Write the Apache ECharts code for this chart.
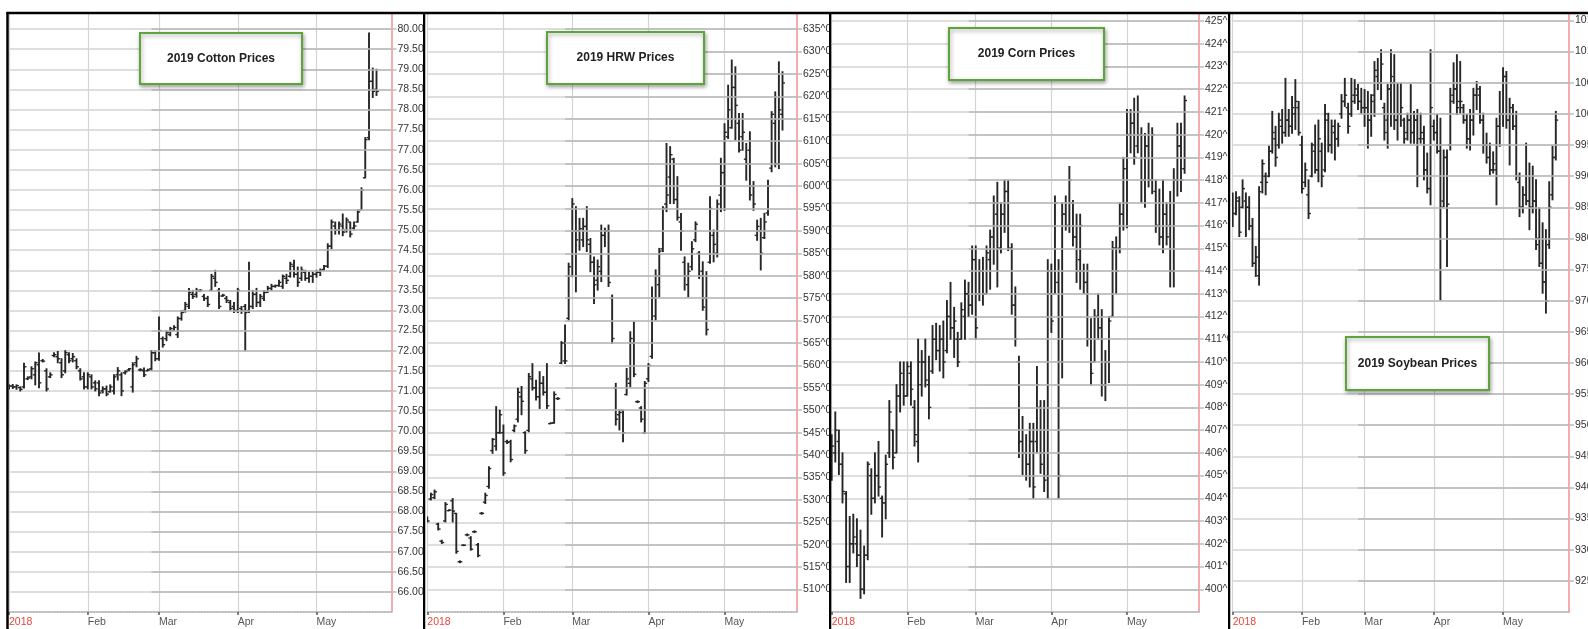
<!DOCTYPE html>
<html>
<head>
<meta charset="utf-8">
<script src="https://cdn.jsdelivr.net/npm/echarts@6/dist/echarts.min.js"></script>
<style>
html,body{margin:0;padding:0;background:#fff;width:1588px;height:629px;overflow:hidden;}
.panel{position:absolute;top:0;height:629px;overflow:hidden;background:#fff;}
</style>
</head>
<body>
<div id="p1" class="panel" style="left:0;width:423px"></div>
<div id="p2" class="panel" style="left:423px;width:406px"></div>
<div id="p3" class="panel" style="left:829px;width:399px"></div>
<div id="p4" class="panel" style="left:1228px;width:360px"></div>
<script>
// ---- categories: 2018 trading days (Jan 2 .. May 30) ----
const tradingDays = [
"01-02","01-03","01-04","01-05","01-08","01-09","01-10","01-11","01-12","01-16","01-17","01-18","01-19","01-22","01-23","01-24","01-25","01-26","01-29","01-30","01-31",
"02-01","02-02","02-05","02-06","02-07","02-08","02-09","02-12","02-13","02-14","02-15","02-16","02-20","02-21","02-22","02-23","02-26","02-27","02-28",
"03-01","03-02","03-05","03-06","03-07","03-08","03-09","03-12","03-13","03-14","03-15","03-16","03-19","03-20","03-21","03-22","03-23","03-26","03-27","03-28","03-29",
"04-02","04-03","04-04","04-05","04-06","04-09","04-10","04-11","04-12","04-13","04-16","04-17","04-18","04-19","04-20","04-23","04-24","04-25","04-26","04-27","04-30",
"05-01","05-02","05-03","05-04","05-07","05-08","05-09","05-10","05-11","05-14","05-15","05-16","05-17","05-18","05-21","05-22","05-23","05-24","05-25","05-29","05-30"
];
// ---- x tick labels ----
const monthLabels = {"01-02":"2018","02-01":"Feb","03-01":"Mar","04-02":"Apr","05-01":"May"};

// ---- titles ----
const titles = ["2019 Cotton Prices","2019 HRW Prices","2019 Corn Prices","2019 Soybean Prices"];

// ---- OHLC series: [open, high, low, close] ----
const cottonBars = [
[71.10,71.15,71.05,71.12],[71.12,71.16,71.06,71.10],[71.10,71.15,71.04,71.13],[71.08,71.10,71.00,71.04],[71.10,71.69,71.07,71.60],
[71.30,71.35,71.28,71.32],[71.35,71.60,71.30,71.55],[71.40,71.72,71.15,71.70],[71.65,71.94,71.08,71.20],[71.75,71.78,71.72,71.74],
[71.50,71.55,71.00,71.05],[71.35,71.45,71.33,71.40],[71.88,71.95,71.85,71.90],[71.85,71.98,71.70,71.80],[71.70,71.80,71.33,71.40],
[71.50,72.00,71.45,71.95],[71.90,71.95,71.70,71.75],[71.80,71.93,71.72,71.85],[71.75,71.80,71.55,71.60],[71.50,71.55,71.27,71.30],
[71.35,71.45,71.05,71.10],[71.10,71.45,71.05,71.40],[71.35,71.40,71.05,71.10],[71.20,71.25,71.00,71.05],[71.20,71.25,70.88,70.95],
[71.00,71.10,70.95,71.05],[71.05,71.12,70.88,70.92],[70.98,71.15,70.97,71.10],[71.00,71.40,70.92,71.35],[71.40,71.58,71.27,71.50],
[71.40,71.45,70.88,71.00],[71.45,71.50,71.42,71.48],[71.52,71.56,71.50,71.55],[71.10,71.70,70.97,71.65],[71.70,71.86,71.60,71.80],
[71.52,71.55,71.50,71.53],[71.50,71.57,71.36,71.40],[71.50,71.54,71.50,71.52],[71.55,72.00,71.52,71.95],[71.95,72.00,71.75,71.80],
[71.80,72.84,71.76,72.50],[72.30,72.34,72.09,72.15],[72.30,72.50,72.25,72.45],[72.40,72.58,72.37,72.55],[72.50,72.62,72.50,72.58],
[72.40,72.84,72.33,72.80],[72.80,73.00,72.76,72.95],[73.00,73.20,72.96,73.15],[73.10,73.55,73.05,73.45],[73.40,73.50,73.30,73.35],
[73.40,73.55,73.33,73.50],[73.48,73.52,73.47,73.50],[73.35,73.40,73.25,73.30],[73.30,73.35,73.10,73.15],[73.50,73.90,73.50,73.85],
[73.80,74.00,73.60,73.70],[73.50,73.55,73.05,73.10],[73.36,73.40,73.35,73.38],[73.30,73.35,73.20,73.25],[73.20,73.25,73.00,73.05],
[73.10,73.20,72.95,73.00],[73.00,73.55,72.95,73.50],[73.05,73.10,72.93,73.00],[73.10,73.15,72.00,72.95],[73.00,74.20,72.95,73.10],
[73.10,73.50,73.05,73.40],[73.40,73.55,73.10,73.20],[73.20,73.40,73.10,73.35],[73.30,73.50,73.25,73.45],[73.45,73.60,73.45,73.55],
[73.55,73.65,73.50,73.60],[73.60,73.63,73.58,73.62],[73.62,73.75,73.60,73.70],[73.60,73.88,73.55,73.85],[73.80,73.90,73.67,73.75],
[73.85,74.20,73.83,74.15],[74.10,74.25,73.83,73.90],[73.90,74.08,73.60,73.70],[73.80,74.08,73.75,74.00],[73.95,74.00,73.75,73.80],
[73.80,73.95,73.70,73.85],[73.85,73.95,73.70,73.90],[73.90,74.00,73.83,73.95],[73.95,74.03,73.87,74.00],[74.02,74.12,74.00,74.10],
[74.10,74.66,74.07,74.60],[74.60,75.25,74.54,75.20],[75.10,75.20,74.90,75.00],[75.00,75.20,74.90,75.15],[75.10,75.40,74.86,74.95],
[75.00,75.30,74.95,75.25],[75.20,75.20,74.83,74.90],[75.05,75.20,75.00,75.10],[75.20,75.50,75.20,75.45],[75.50,76.05,75.50,76.00],
[76.30,77.30,76.30,77.25],[77.30,79.90,77.25,78.70],[78.70,79.03,78.30,78.45],[78.50,79.00,78.35,78.45]
];
const hrwBars = [
[526.0,526.2,525.1,525.3],[530.2,531.5,530.0,531.2],[530.5,532.2,530.3,531.8],[524.6,524.8,523.3,523.5],[520.8,521.0,520.3,520.5],
[525.3,529.4,525.1,529.0],[527.6,527.8,527.6,527.7],[529.8,530.3,525.1,527.5],[527.0,527.0,518.1,518.5],[516.2,516.4,516.0,516.2],
[519.9,520.0,519.8,519.9],[522.2,522.4,522.0,522.2],[521.5,521.8,518.8,519.0],[522.9,523.1,522.7,522.9],[520.0,520.3,517.3,517.6],
[527.0,527.2,526.8,527.0],[529.5,531.5,529.2,531.0],[533.0,537.4,532.6,537.0],[541.0,543.7,540.4,543.5],[542.0,550.8,541.1,545.0],
[545.0,550.0,544.8,549.0],[545.0,546.7,535.5,536.0],[543.0,543.3,542.6,542.8],[543.0,543.3,538.5,539.0],[545.5,546.7,545.2,546.5],
[548.0,554.9,547.4,554.0],[553.0,555.3,549.0,552.0],[545.0,545.2,540.4,541.0],[545.5,558.2,545.2,557.5],[557.0,560.4,554.5,555.0],
[555.0,556.7,552.3,553.0],[553.0,558.6,550.4,556.0],[556.0,557.5,553.4,554.0],[554.0,560.4,550.4,551.0],[547.0,547.2,547.0,547.1],
[547.2,554.1,547.1,553.5],[552.6,552.8,552.4,552.6],[560.5,565.3,560.4,565.0],[561.0,569.0,560.4,561.0],[570.5,582.8,570.1,582.0],
[580.0,597.2,579.8,596.0],[590.0,595.4,576.4,588.0],[590.0,592.8,585.7,590.5],[588.0,592.8,586.5,591.0],[591.0,595.4,585.4,588.0],
[587.0,588.3,580.9,583.0],[583.0,584.2,573.8,578.0],[579.0,583.5,576.8,582.0],[581.0,591.3,578.7,589.0],[589.0,590.6,586.5,590.0],
[590.0,591.3,577.6,578.5],[575.0,575.7,564.9,566.0],[555.0,556.0,546.7,548.0],[549.0,550.0,545.6,549.5],[550.0,550.0,543.0,545.0],
[553.5,559.3,553.4,557.0],[556.0,567.5,555.2,566.0],[565.0,569.7,557.5,558.0],[551.9,552.1,551.7,551.9],[550.5,550.8,547.4,548.0],
[545.0,556.4,544.8,556.0],[557.0,560.4,556.4,560.0],[562.0,577.5,561.6,575.0],[571.0,581.3,570.1,580.0],[578.0,586.1,575.3,585.5],
[586.0,595.4,585.4,595.0],[596.0,609.5,594.3,598.0],[602.0,608.8,596.1,607.0],[606.0,606.2,596.1,597.0],[597.0,602.1,592.4,593.0],
[592.0,593.9,585.7,590.0],[583.0,584.2,576.8,580.0],[578.0,582.8,575.3,581.0],[582.0,587.6,581.3,586.0],[588.0,592.0,587.6,591.5],
[585.0,585.4,579.4,580.0],[581.0,583.1,572.3,573.0],[575.0,580.9,566.8,568.0],[583.0,597.6,582.8,595.0],[589.0,590.2,583.1,587.0],
[585.0,596.9,584.2,596.0],[598.0,606.2,594.3,603.0],[603.0,613.9,594.6,612.0],[611.0,622.5,610.6,617.0],[613.0,628.1,612.9,622.0],
[622.0,626.6,610.3,618.0],[614.0,616.2,607.6,608.0],[611.0,616.2,608.0,612.0],[606.0,609.5,601.3,605.0],[608.0,612.1,596.9,598.0],
[600.0,601.0,594.6,596.0],[589.0,592.4,587.9,591.0],[590.0,592.8,581.3,585.0],[588.5,593.9,588.3,592.0],[594.0,601.3,593.5,600.0],
[604.0,616.6,603.2,616.0],[614.0,621.0,604.3,605.0],[605.0,627.7,603.9,617.0],[616.0,625.5,612.5,623.0]
];
const cornBars = [
[405.0,406.8,404.8,406.3],[406.0,407.8,405.6,407.0],[406.5,407.0,405.05,405.5],[405.5,406.0,403.8,404.3],[404.2,404.3,400.3,401.0],
[401.0,403.2,400.3,402.0],[402.0,403.3,401.6,402.3],[402.0,403.1,401.0,401.5],[401.5,402.6,399.6,400.0],[400.0,401.9,399.8,401.5],
[401.5,405.6,401.3,405.5],[405.0,405.3,403.3,404.0],[404.0,406.0,403.8,405.0],[405.0,406.5,404.1,404.5],[404.0,404.1,402.3,403.8],
[403.8,405.9,403.1,405.5],[406.0,408.3,405.8,407.8],[407.0,407.0,405.3,405.8],[406.0,409.0,406.0,408.5],[408.5,410.0,407.8,409.5],
[409.0,410.0,408.1,408.5],[408.5,410.0,408.5,409.8],[409.5,410.0,408.1,408.8],[408.0,408.3,406.3,406.8],[406.5,411.0,405.6,410.0],
[409.0,410.5,408.5,410.0],[410.0,411.0,408.9,409.2],[409.0,410.25,407.5,408.0],[409.6,411.6,409.5,411.0],[411.0,411.7,410.1,410.5],
[410.5,411.6,409.6,411.0],[411.0,411.8,409.3,410.0],[410.5,412.7,410.4,412.0],[412.0,413.5,411.0,411.5],[411.5,412.4,410.2,411.8],
[411.0,411.3,409.8,410.0],[411.0,412.6,411.0,412.3],[412.0,413.6,411.0,413.0],[413.0,413.5,412.0,412.5],[412.5,415.1,412.1,414.5],
[414.5,415.1,411.0,411.5],[413.0,414.5,412.7,414.0],[414.0,414.6,412.5,413.0],[413.0,415.1,413.0,414.8],[414.5,415.8,413.2,415.5],
[415.5,417.3,414.3,417.0],[416.5,417.9,413.3,415.0],[415.0,417.0,414.8,416.5],[416.5,418.0,415.7,417.5],[417.5,418.0,414.9,415.0],
[415.0,415.2,412.1,412.5],[412.5,413.3,410.7,411.0],[410.0,410.25,405.8,406.5],[406.5,407.6,405.05,406.0],[406.0,406.8,404.8,405.5],
[405.5,407.3,404.5,406.5],[406.5,407.3,404.0,404.5],[406.5,409.8,406.0,409.0],[408.0,408.3,405.1,405.5],[406.0,408.3,404.3,404.8],
[405.0,414.5,404.0,414.0],[413.0,414.3,411.3,411.8],[413.0,417.3,413.0,417.0],[413.5,414.5,404.0,405.0],[410.0,417.0,409.3,416.5],
[416.5,417.3,415.8,416.0],[416.0,418.6,415.7,418.0],[417.0,417.1,415.1,415.5],[415.5,416.5,413.5,414.0],[414.5,416.5,413.2,416.0],
[414.0,414.3,413.0,413.5],[413.5,414.3,410.7,411.0],[411.0,411.9,409.0,409.5],[410.0,412.3,410.0,412.0],[412.0,413.0,411.0,411.5],
[411.5,412.3,408.5,409.0],[409.0,410.5,408.3,410.0],[410.0,412.0,409.1,411.8],[412.0,415.3,412.0,415.0],[415.0,415.5,413.0,414.0],
[415.0,417.0,414.8,416.5],[416.5,419.0,415.8,418.5],[417.0,421.1,415.9,420.0],[420.0,421.1,419.2,420.5],[420.5,421.6,418.7,419.0],
[419.5,421.7,419.2,421.0],[420.0,420.3,417.0,418.0],[418.0,420.05,416.8,419.5],[419.5,420.5,417.7,418.0],[418.0,420.3,417.4,420.0],
[417.5,418.0,415.7,416.0],[416.0,417.6,415.15,415.5],[415.5,418.0,414.8,416.5],[416.5,417.0,415.15,415.5],[416.0,417.5,413.3,414.0],
[414.0,418.5,413.3,418.0],[418.0,420.5,417.3,419.5],[419.5,420.5,417.5,418.0],[418.5,421.7,418.3,421.5]
];
const soyBars = [
[985.0,987.3,981.9,984.0],[984.0,987.5,983.8,986.5],[986.0,986.7,980.3,981.0],[985.0,989.4,984.9,988.0],[986.0,987.3,980.3,985.0],
[985.0,986.7,981.4,982.0],[982.0,983.2,975.5,976.0],[976.0,978.7,973.9,977.0],[974.0,988.3,972.5,987.5],[989.0,992.6,987.3,992.0],
[990.0,990.5,987.0,989.0],[990.0,994.8,989.9,994.0],[994.0,1000.4,993.7,997.0],[996.0,998.0,991.6,993.0],[995.0,1000.1,994.5,999.0],
[998.0,1000.7,995.3,997.0],[997.0,1005.7,996.4,999.0],[999.0,1000.7,996.4,998.0],[998.0,1002.8,996.9,1001.0],[1000.0,1005.5,997.5,1002.0],
[1001.0,1002.0,996.6,997.0],[995.0,996.4,987.3,988.0],[989.0,992.1,988.3,991.0],[987.0,989.4,983.2,984.0],[990.0,995.3,989.9,995.0],
[994.0,998.2,990.5,991.0],[991.0,999.0,989.1,996.0],[994.0,995.3,988.3,990.0],[991.0,1001.5,990.7,1000.0],[999.0,1000.1,993.9,995.0],
[995.0,999.0,993.7,998.0],[997.0,999.0,992.6,996.0],[996.0,998.5,994.8,998.0],[1000.0,1003.1,999.3,1002.0],[1002.0,1005.7,1001.2,1003.0],
[1001.0,1001.7,996.9,998.0],[1000.0,1005.7,999.6,1002.0],[1003.0,1005.5,1001.7,1004.0],[1003.0,1004.7,1000.7,1002.0],[1002.0,1004.1,1000.1,1001.0],
[1001.0,1003.9,998.0,1001.0],[1001.0,1003.6,994.5,999.0],[999.0,1003.1,996.4,1002.0],[1003.0,1008.4,999.6,1007.0],[1006.0,1008.9,1003.9,1005.0],
[1005.0,1010.3,1002.3,1008.0],[1001.0,1001.7,995.8,997.0],[999.0,1004.7,994.5,1004.0],[1004.0,1010.3,998.0,1006.0],[1005.0,1009.5,997.5,999.0],
[999.0,1004.9,995.8,1000.0],[1000.0,1004.9,998.0,1001.0],[999.0,999.3,995.3,996.0],[997.0,1000.1,995.8,999.0],[999.0,1004.7,995.3,997.0],
[997.0,1000.4,995.3,999.0],[999.0,1000.7,988.3,990.0],[996.0,1000.1,995.3,997.0],[996.0,998.0,989.4,991.0],[991.0,993.7,987.3,988.0],
[988.0,1010.3,985.4,1001.0],[998.0,999.0,995.8,997.0],[997.0,999.9,993.7,994.0],[994.0,999.3,970.1,985.0],[986.0,994.2,985.1,993.0],
[993.0,994.2,975.5,985.5],[995.0,1004.1,994.2,1002.0],[1003.0,1008.2,1001.7,1004.0],[1004.0,1009.5,999.9,1001.0],[1002.0,1008.4,1000.1,1002.0],
[1001.0,1001.5,998.5,999.0],[999.0,999.9,994.5,996.0],[996.0,1000.7,994.2,999.0],[999.0,1004.1,996.6,1003.0],[1003.0,1005.2,1000.7,1004.0],
[1003.0,1004.4,998.5,999.0],[999.0,1000.1,993.7,995.0],[995.0,996.9,992.1,993.0],[993.0,995.3,990.2,991.0],[991.0,993.9,990.5,992.0],
[991.0,999.3,985.4,998.0],[998.0,1003.6,994.8,1000.0],[1000.0,1007.4,998.0,1006.0],[1006.0,1006.8,997.7,999.0],[999.0,1002.5,991.8,1001.0],
[1000.0,1001.5,997.5,998.0],[998.0,1000.4,989.4,990.0],[989.0,990.5,983.5,985.0],[985.0,988.3,984.1,987.0],[987.0,995.3,985.4,986.0],
[986.0,992.1,981.4,985.0],[985.0,991.6,984.1,986.0],[986.0,989.4,978.2,979.0],[980.0,984.9,975.5,976.0],[976.0,982.5,971.2,973.0],
[973.0,981.4,968.0,970.0],[979.0,989.1,978.4,985.0],[987.0,994.8,986.2,993.0],[993.0,1000.4,992.6,999.0]
];

const FONT = "'Liberation Sans Narrow','Arial Narrow','Liberation Sans',Arial,sans-serif";
const isMonth = (i, v) => Object.prototype.hasOwnProperty.call(monthLabels, v);

function renderOHLC(params, api) {
  const i = api.value(0);
  const pO = api.coord([i, api.value(1)]);
  const pH = api.coord([i, api.value(2)]);
  const pL = api.coord([i, api.value(3)]);
  const pC = api.coord([i, api.value(4)]);
  const st = {stroke: '#262626', lineWidth: 1.9};
  const tk = {stroke: '#262626', lineWidth: 1.4};
  return {type: 'group', children: [
    {type: 'line', shape: {x1: pH[0], y1: pH[1] - 0.5, x2: pL[0], y2: pL[1] + 0.5}, style: st},
    {type: 'line', shape: {x1: pO[0] - 2.4, y1: pO[1], x2: pO[0], y2: pO[1]}, style: tk},
    {type: 'line', shape: {x1: pC[0], y1: pC[1], x2: pC[0] + 2.4, y2: pC[1]}, style: tk}
  ]};
}

function buildPanel(id, cfg) {
  const el = document.getElementById(id);
  const chart = echarts.init(el, null, {renderer: 'canvas'});
  const W = el.clientWidth;
  const data = cfg.bars.map((b, i) => [i, b[0], b[1], b[2], b[3]]);
  const bx = cfg.box;
  // darker grid segments (from late Feb to the right edge) on the axis tick values
  const darkLines = [];
  for (let k = 1; cfg.min + k * cfg.interval < cfg.max; k++) {
    const v = +(cfg.min + k * cfg.interval).toFixed(2);
    darkLines.push([{xAxis: '02-27', yAxis: v}, {xAxis: '05-30', yAxis: v}]);
  }
  chart.setOption({
    animation: false,
    grid: {left: cfg.gridLeft, width: cfg.gridWidth, top: 13, bottom: 17, containLabel: false, outerBoundsMode: 'none'},
    xAxis: {
      type: 'category', data: tradingDays, boundaryGap: false,
      axisLine: {show: true, onZero: false, lineStyle: {color: '#b5b5b5', type: 'dotted', width: 1.5}},
      axisTick: {show: true, interval: isMonth, length: 3, lineStyle: {color: '#555', width: 1.5}},
      axisLabel: {
        show: true, interval: isMonth, align: 'left', margin: 5,
        formatter: v => v === '01-02' ? '{r|' + monthLabels[v] + '}' : (monthLabels[v] || ''),
        rich: {r: {color: '#e8463c', fontSize: 10.5, fontFamily: FONT}},
        color: '#555', fontSize: 10.5, fontFamily: FONT
      },
      splitLine: {show: true, interval: isMonth, lineStyle: {color: '#d4d4d4', width: 1.2}}
    },
    yAxis: {
      type: 'value', position: 'right', min: cfg.min, max: cfg.max, interval: cfg.interval, scale: true,
      axisLine: {show: true, lineStyle: {color: '#f39090', width: 1.5}},
      axisTick: {show: true, length: 5, lineStyle: {color: '#bdbdbd', width: 1.5}},
      axisLabel: {
        show: true, margin: 6, formatter: cfg.fmt, color: '#333', fontSize: 10.5, fontFamily: FONT,
        showMinLabel: false, showMaxLabel: false
      },
      splitLine: {show: true, lineStyle: {color: '#d3d3d3', width: 1.5}}
    },
    graphic: [
      {type: 'line', z: 100, shape: {x1: cfg.borderX, y1: 12, x2: cfg.borderX, y2: 629}, style: {stroke: '#000', lineWidth: 2.5}},
      {type: 'line', z: 100, shape: {x1: cfg.borderX - 1, y1: 13, x2: W, y2: 13}, style: {stroke: '#000', lineWidth: 2.5}},
      {type: 'group', left: bx[0], top: bx[1], z: 100, children: [
        {type: 'rect', z: 100, shape: {x: 0, y: 0, width: bx[2], height: bx[3]},
         style: {fill: '#fff', stroke: '#5fa43a', lineWidth: 2, shadowBlur: 4, shadowOffsetX: 1, shadowOffsetY: 2, shadowColor: 'rgba(0,0,0,0.35)'}},
        {type: 'text', z: 101, x: bx[2] / 2, y: bx[3] / 2,
         style: {text: cfg.title, align: 'center', verticalAlign: 'middle', fontSize: 12, fontWeight: 'bold', fontFamily: FONT, fill: '#222'}}
      ]}
    ],
    series: [
      {type: 'line', data: [], z: 1, silent: true, symbol: 'none',
       markLine: {silent: true, symbol: 'none', label: {show: false}, animation: false,
                  lineStyle: {color: '#bababa', width: 1.5, type: 'solid'}, emphasis: {disabled: true}, data: darkLines}},
      {type: 'custom', z: 3, renderItem: renderOHLC, data: data, encode: {x: 0, y: [1, 2, 3, 4]}, clip: true, silent: true}
    ]
  });
}

const cents = v => Math.round(v) + '^0';
buildPanel('p1', {bars: cottonBars, title: titles[0], min: 65.5, max: 80.4, interval: 0.5,
  fmt: v => v.toFixed(2), gridLeft: 9, gridWidth: 382.5, borderX: 7.5, box: [139, 32, 162, 51]});
buildPanel('p2', {bars: hrwBars, title: titles[1], min: 505, max: 638.6, interval: 5,
  fmt: cents, gridLeft: 4.3, gridWidth: 369.7, borderX: 1, box: [123, 31, 157, 52]});
buildPanel('p3', {bars: cornBars, title: titles[2], min: 399, max: 425.35, interval: 1,
  fmt: cents, gridLeft: 2.7, gridWidth: 367.3, borderX: 1, box: [119, 27, 155, 52]});
buildPanel('p4', {bars: soyBars, title: titles[3], min: 920, max: 1016.2, interval: 5,
  fmt: cents, gridLeft: 4.7, gridWidth: 336.3, borderX: 1, box: [117, 336, 143, 53]});
</script>
</body>
</html>
